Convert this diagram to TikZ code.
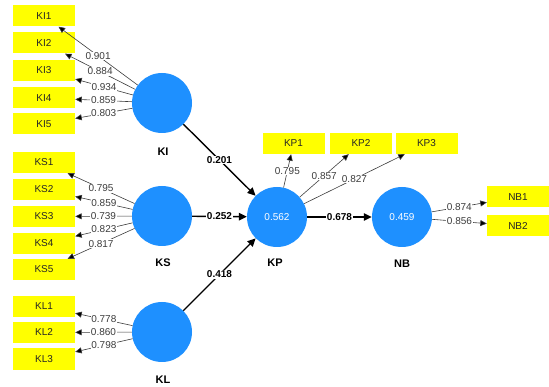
\documentclass[tikz,border=0pt]{standalone}
\usepackage{fontspec}
\setmainfont{Liberation Sans}
\usetikzlibrary{arrows.meta}
\definecolor{lvblue}{RGB}{30,144,255}
\definecolor{mvyellow}{RGB}{255,255,0}
\definecolor{loadgray}{RGB}{60,60,60}

\begin{document}
\begin{tikzpicture}[x=1pt, y=-1pt,
	lv/.style={circle, fill=lvblue, minimum size=60pt, inner sep=0pt, text=white, font=\fontsize{10}{11}\selectfont},
	mv/.style={rectangle, fill=mvyellow, minimum width=62pt, minimum height=21pt, inner sep=0pt, text=black!85, font=\fontsize{10}{11}\selectfont},
	lvname/.style={font=\bfseries\fontsize{11}{13}\selectfont},
	loadarrow/.style={draw=loadgray, line width=0.6pt, -{Triangle[length=6.5pt,width=6pt,fill=black]}},
	loadval/.style={fill=white, inner sep=0.6pt, text=loadgray, font=\fontsize{10}{11}\selectfont},
	relarrow/.style={draw=black, line width=1.4pt, -{Triangle[length=8pt,width=7.5pt]}},
	relval/.style={fill=white, inner sep=0.6pt, font=\bfseries\fontsize{10}{11}\selectfont}]
				\useasboundingbox (0,0) rectangle (549,387);
				\node[lv] (KI) at (162,103) {};
				\node[lv] (KS) at (162,216) {};
				\node[lv] (KL) at (162,332) {};
				\node[lv] (KP) at (277,217) {0.562};
				\node[lv] (NB) at (402,217) {0.459};
				\node[lvname] (KIname) at (163,152) {KI};
				\node[lvname] (KSname) at (163,263) {KS};
				\node[lvname] (KLname) at (163,380) {KL};
				\node[lvname] (KPname) at (275,263) {KP};
				\node[lvname] (NBname) at (402,264) {NB};
				\node[mv] (KI1) at (44,16) {KI1};
				\node[mv] (KI2) at (44,43) {KI2};
				\node[mv] (KI3) at (44,70.5) {KI3};
				\node[mv] (KI4) at (44,98) {KI4};
				\node[mv] (KI5) at (44,124) {KI5};
				\node[mv] (KS1) at (44,162.5) {KS1};
				\node[mv] (KS2) at (44,189.5) {KS2};
				\node[mv] (KS3) at (44,216.5) {KS3};
				\node[mv] (KS4) at (44,243.5) {KS4};
				\node[mv] (KS5) at (44,269.5) {KS5};
				\node[mv] (KL1) at (44,306.5) {KL1};
				\node[mv] (KL2) at (44,332.5) {KL2};
				\node[mv] (KL3) at (44,359) {KL3};
				\node[mv] (KP1) at (293.5,143.5) {KP1};
				\node[mv] (KP2) at (361,143.5) {KP2};
				\node[mv] (KP3) at (426.5,143.5) {KP3};
				\node[mv] (NB1) at (518,197) {NB1};
				\node[mv] (NB2) at (518,226) {NB2};
				\draw[loadarrow] (KI) -- (KI1) node[midway, loadval] {0.901};
				\draw[loadarrow] (KI) -- (KI2) node[midway, loadval] {0.884};
				\draw[loadarrow] (KI) -- (KI3) node[midway, loadval] {0.934};
				\draw[loadarrow] (KI) -- (KI4) node[midway, loadval] {0.859};
				\draw[loadarrow] (KI) -- (KI5) node[midway, loadval] {0.803};
				\draw[loadarrow] (KS) -- (KS1) node[midway, loadval] {0.795};
				\draw[loadarrow] (KS) -- (KS2) node[midway, loadval] {0.859};
				\draw[loadarrow] (KS) -- (KS3) node[midway, loadval] {0.739};
				\draw[loadarrow] (KS) -- (KS4) node[midway, loadval] {0.823};
				\draw[loadarrow] (KS) -- (KS5) node[midway, loadval] {0.817};
				\draw[loadarrow] (KL) -- (KL1) node[midway, loadval] {0.778};
				\draw[loadarrow] (KL) -- (KL2) node[midway, loadval] {0.860};
				\draw[loadarrow] (KL) -- (KL3) node[midway, loadval] {0.798};
				\draw[loadarrow] (KP) -- (KP1) node[midway, loadval] {0.795};
				\draw[loadarrow] (KP) -- (KP2) node[midway, loadval] {0.857};
				\draw[loadarrow] (KP) -- (KP3) node[midway, loadval] {0.827};
				\draw[loadarrow] (NB) -- (NB1) node[midway, loadval] {0.874};
				\draw[loadarrow] (NB) -- (NB2) node[midway, loadval] {0.856};
				\draw[relarrow] (KI) -- (KP) node[midway, relval] {0.201};
				\draw[relarrow] (KS) -- (KP) node[midway, relval] {0.252};
				\draw[relarrow] (KL) -- (KP) node[midway, relval] {0.418};
				\draw[relarrow] (KP) -- (NB) node[midway, relval] {0.678};
			\end{tikzpicture}
\end{document}
